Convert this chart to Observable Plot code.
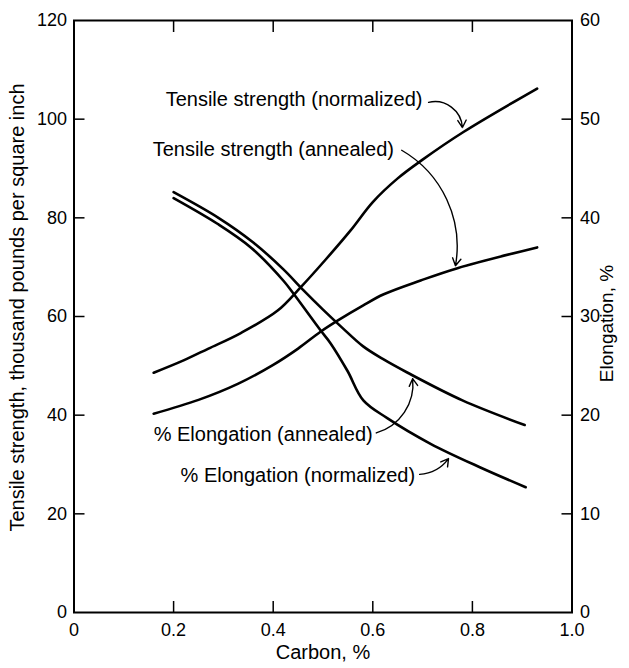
<!DOCTYPE html>
<html>
<head>
<meta charset="utf-8">
<script src="https://cdn.jsdelivr.net/npm/d3@7"></script>
<script src="https://cdn.jsdelivr.net/npm/@observablehq/plot@0.6"></script>
<style>
  html, body { margin: 0; padding: 0; background: #fff; }
  #chart { width: 629px; height: 668px; }
</style>
</head>
<body>
<div id="chart"></div>
<script>
// ---- Data ----
// Tensile strength, thousand psi (left axis)
const carbonTSNormalized = [0.16, 0.22, 0.27, 0.334, 0.409, 0.455, 0.505, 0.555, 0.60, 0.65, 0.70, 0.782, 0.93];
const tsNormalized       = [48.6, 51.1, 53.5, 56.6, 61.2, 65.9, 71.5, 77.4, 83.2, 88.0, 91.8, 97.4, 106.2];

const carbonTSAnnealed = [0.16, 0.25, 0.33, 0.40, 0.45, 0.495, 0.53, 0.58, 0.622, 0.696, 0.77, 0.93];
const tsAnnealed       = [40.3, 43.1, 46.4, 50.2, 53.5, 56.9, 59.2, 62.2, 64.5, 67.3, 69.8, 74.0];

// Elongation, % (right axis)
const carbonElAnnealed = [0.2, 0.29, 0.36, 0.42, 0.46, 0.5, 0.54, 0.58, 0.62, 0.67, 0.78, 0.905];
const elAnnealed       = [42.6, 40.0, 37.5, 34.8, 32.7, 30.7, 28.8, 27.0, 25.7, 24.3, 21.5, 19.0];

const carbonElNormalized = [0.2, 0.288, 0.355, 0.421, 0.441, 0.495, 0.515, 0.549, 0.581, 0.629, 0.716, 0.816, 0.907];
const elNormalized       = [42.0, 39.4, 37.0, 33.6, 32.3, 28.6, 27.3, 24.5, 21.5, 19.7, 17.1, 14.7, 12.7];

// Axis ticks
const xTicks = [0, 0.2, 0.4, 0.6, 0.8, 1.0];
const xTickLabels = ["0", "0.2", "0.4", "0.6", "0.8", "1.0"];
const tsTicks = [0, 20, 40, 60, 80, 100, 120];
const elTicks = [0, 10, 20, 30, 40, 50, 60];

// Annotation labels (x in carbon %, value on the axis named by "axis")
const labelTexts  = ["Tensile strength (normalized)", "Tensile strength (annealed)", "% Elongation (annealed)", "% Elongation (normalized)"];
const labelAxis   = ["ts", "ts", "el", "el"];
const labelX      = [0.184, 0.158, 0.160, 0.214];
const labelY      = [104.0, 93.9, 18.05, 13.9];

// Annotation arrows: start -> end
const arrowAxis = ["ts", "ts", "el", "el"];
const arrowX1 = [0.712, 0.658, 0.607, 0.694];
const arrowY1 = [103.4, 93.7, 18.2, 14.0];
const arrowX2 = [0.78, 0.766, 0.68, 0.752];
const arrowY2 = [98.3, 70.3, 23.7, 15.6];
const arrowBend = [50, 35, -40, -25];

// ---- Build tables ----
const EL_TO_TS = 2; // right axis 0–60 shares the frame with left axis 0–120
const toTS = (axis, v) => axis === "el" ? v * EL_TO_TS : v;

const series = [
  ...carbonTSNormalized.map((c, i) => ({series: "tsN", carbon: c, v: tsNormalized[i]})),
  ...carbonTSAnnealed.map((c, i) => ({series: "tsA", carbon: c, v: tsAnnealed[i]})),
  ...carbonElAnnealed.map((c, i) => ({series: "elA", carbon: c, v: toTS("el", elAnnealed[i])})),
  ...carbonElNormalized.map((c, i) => ({series: "elN", carbon: c, v: toTS("el", elNormalized[i])}))
];
const labels = labelTexts.map((t, i) => ({text: t, x: labelX[i], y: toTS(labelAxis[i], labelY[i])}));
const arrows = arrowX1.map((x1, i) => ({
  x1, y1: toTS(arrowAxis[i], arrowY1[i]), x2: arrowX2[i], y2: toTS(arrowAxis[i], arrowY2[i]), bend: arrowBend[i]
}));

const innerX = xTicks.slice(1, -1);
const innerY = tsTicks.slice(1, -1);
const font = "'Liberation Sans', Arial, sans-serif";

const chart = Plot.plot({
  width: 629,
  height: 668,
  marginLeft: 73.5,
  marginRight: 57.5,
  marginTop: 20,
  marginBottom: 56,
  style: {fontFamily: font, fontSize: "18px", color: "black", background: "white"},
  x: {domain: [0, 1], label: null},
  y: {domain: [0, 120], label: null},
  marks: [
    // tick labels
    Plot.axisX({anchor: "bottom", ticks: xTicks, tickSize: 0, tickPadding: 11,
      tickFormat: d => xTickLabels[xTicks.indexOf(d)], label: null}),
    Plot.axisY({anchor: "left", ticks: tsTicks, tickSize: 0, tickPadding: 7, tickFormat: d => String(d), label: null}),
    Plot.axisY({anchor: "right", ticks: elTicks.map(d => d * EL_TO_TS), tickSize: 0, tickPadding: 8,
      tickFormat: d => String(d / EL_TO_TS), label: null}),
    // inward tick marks
    Plot.axisX({anchor: "bottom", ticks: innerX, tickSize: -11, tickFormat: () => "", label: null, strokeWidth: 1.5}),
    Plot.axisX({anchor: "top", ticks: innerX, tickSize: -11, tickFormat: () => "", label: null, strokeWidth: 1.5}),
    Plot.axisY({anchor: "left", ticks: innerY, tickSize: -11, tickFormat: () => "", label: null, strokeWidth: 1.5}),
    Plot.axisY({anchor: "right", ticks: innerY, tickSize: -11, tickFormat: () => "", label: null, strokeWidth: 1.5}),
    // axis titles
    Plot.text(["Carbon, %"], {frameAnchor: "bottom", textAnchor: "middle", dy: 46, fontSize: 20, fill: "black"}),
    Plot.text(["Tensile strength, thousand pounds per square inch"], {frameAnchor: "left", textAnchor: "middle",
      dx: -56, dy: -9, rotate: -90, fontSize: 20, fill: "black"}),
    Plot.text(["Elongation, %"], {frameAnchor: "right", textAnchor: "middle", dx: 35, dy: 7, rotate: -90, fontSize: 19, fill: "black"}),
    // frame
    Plot.frame({stroke: "black", strokeWidth: 2}),
    // curves
    Plot.line(series, {x: "carbon", y: "v", z: "series", curve: "catmull-rom", stroke: "black", strokeWidth: 2.6}),
    // annotations
    Plot.text(labels, {x: "x", y: "y", text: "text", textAnchor: "start", fontSize: 20, fill: "black"}),
    ...arrows.map(a => Plot.arrow([a], {x1: "x1", y1: "y1", x2: "x2", y2: "y2", bend: a.bend,
      stroke: "black", strokeWidth: 1.4, headLength: 9}))
  ]
});
document.getElementById("chart").appendChild(chart);
</script>
</body>
</html>
